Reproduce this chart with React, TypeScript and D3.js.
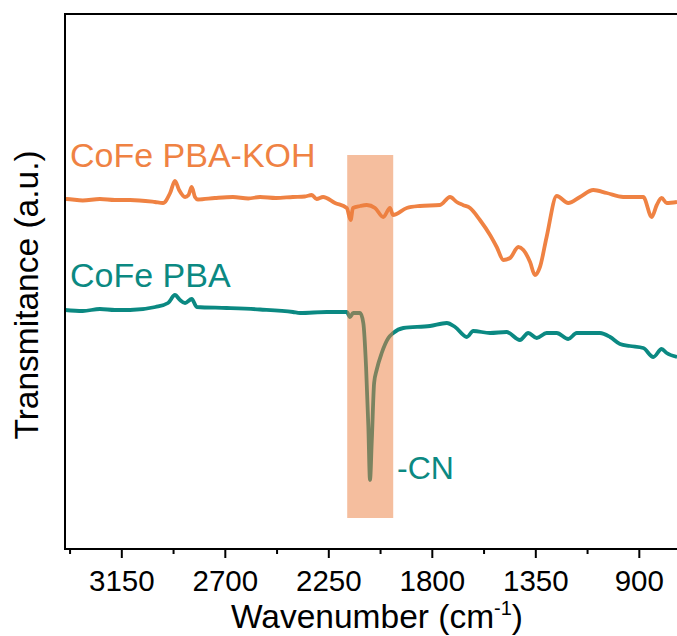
import React from "react";
import * as d3 from "d3";

// Wavenumber (cm^-1) and transmittance (arbitrary units)
const kohWave = [3397, 3390, 3320, 3245, 3180, 3114, 3006, 2971, 2940, 2919, 2901, 2875, 2860, 2846, 2832, 2819, 2745, 2667, 2600, 2549, 2480, 2406, 2354, 2324, 2303, 2275, 2223, 2172, 2155, 2145, 2114, 2085, 2049, 2013, 1984, 1971, 1911, 1854, 1767, 1723, 1694, 1667, 1636, 1593, 1549, 1520, 1491, 1462, 1426, 1404, 1375, 1354, 1332, 1303, 1259, 1209, 1158, 1100, 1042, 970, 883, 846, 824, 803, 781, 736];
const kohT = [349.5, 350, 348.5, 350, 349, 349, 347, 346, 356, 368, 359, 352, 354, 362, 352, 349.5, 351, 352, 350.5, 352, 351, 352, 352.5, 354, 350, 352, 346, 341, 329, 341, 343, 344, 341, 332, 341, 334, 341, 343, 344, 352, 347, 344, 341, 329, 314, 302, 289, 291, 302, 299, 287, 274, 282, 312, 353, 346, 352, 359, 356, 352, 352, 332, 344, 351, 346, 347];

const pbaWave = [3397, 3320, 3245, 3180, 3114, 3004, 2949, 2919, 2897, 2875, 2846, 2824, 2694, 2549, 2406, 2375, 2259, 2172, 2158, 2144, 2114, 2100, 2088, 2078, 2071, 2063, 2053, 2042, 2020, 1991, 1970, 1926, 1810, 1737, 1701, 1650, 1622, 1549, 1477, 1419, 1383, 1346, 1303, 1259, 1209, 1172, 1071, 1027, 984, 941, 883, 839, 803, 781, 736];
const pbaT = [239, 238, 240, 239, 239, 242, 246, 254, 249, 246, 250, 242, 241, 239.5, 237, 236, 237, 237, 232, 236, 236, 226, 182, 122, 69, 109, 166, 179, 196, 211, 216, 221, 223, 226, 222, 212, 218, 216, 217, 209, 216, 211, 216, 216, 210, 216, 216, 212, 205, 203, 201, 192, 200, 196, 192];

const xTicks = [3150, 2700, 2250, 1800, 1350, 900];
const xMinorTicks = [3375, 2925, 2475, 2025, 1575, 1125];
const bandWave = [2170, 1970];
const bandT = [31, 394];

const labels = ["CoFe PBA-KOH", "CoFe PBA"];
const colors = ["#EF8243", "#0B8982"];

export default function App() {
  const W = 677, H = 636;
  const left = 65, top = 14, bottom = 549;
  const x = d3.scaleLinear().domain([3397, 650]).range([left, left + 2747 * 0.23]);
  const y = d3.scaleLinear().domain([0, 535]).range([bottom, top]);
  const line = d3.line<[number, number]>().x(d => x(d[0])).y(d => y(d[1])).curve(d3.curveMonotoneX);
  const koh = kohWave.map((w, i) => [w, kohT[i]] as [number, number]);
  const pba = pbaWave.map((w, i) => [w, pbaT[i]] as [number, number]);
  const font = "'Liberation Sans', Arial, sans-serif";
  return (
    <svg width={W} height={H} style={{ position: "absolute", left: 0, top: 0, background: "#fff" }}>
      <defs>
        <clipPath id="plot">
          <rect x={left} y={top} width={W - left + 20} height={bottom - top} />
        </clipPath>
      </defs>
      <g clipPath="url(#plot)">
        <path d={line(koh) || ""} fill="none" stroke={colors[0]} strokeWidth={3.8} strokeLinejoin="round" />
        <path d={line(pba) || ""} fill="none" stroke={colors[1]} strokeWidth={3.8} strokeLinejoin="round" />
        <rect x={x(bandWave[0])} y={y(bandT[1])} width={x(bandWave[1]) - x(bandWave[0])} height={y(bandT[0]) - y(bandT[1])} fill="#EB7D3D" fillOpacity={0.5} />
      </g>
      {/* frame */}
      <path d={`M${W + 10},${top}H${left}V${bottom}H${W + 10}`} fill="none" stroke="#000" strokeWidth={2} />
      {xTicks.map(t => (
        <g key={t}>
          <line x1={x(t)} x2={x(t)} y1={bottom} y2={bottom + 9} stroke="#000" strokeWidth={2} />
          <text x={x(t)} y={591} textAnchor="middle" fontFamily={font} fontSize={29.5}>{t}</text>
        </g>
      ))}
      {xMinorTicks.map(t => (
        <line key={t} x1={x(t)} x2={x(t)} y1={bottom} y2={bottom + 5} stroke="#000" strokeWidth={2} />
      ))}
      <text x={377} y={628} textAnchor="middle" fontFamily={font} fontSize={33.5}>
        Wavenumber (cm<tspan dy={-13} fontSize={20}>-1</tspan><tspan dy={13}>)</tspan>
      </text>
      <text transform="translate(38,295) rotate(-90)" textAnchor="middle" fontFamily={font} fontSize={33.5}>Transmitance (a.u.)</text>
      <text x={70} y={167} fontFamily={font} fontSize={34} fill={colors[0]}>{labels[0]}</text>
      <text x={70} y={287} fontFamily={font} fontSize={34} fill={colors[1]}>{labels[1]}</text>
      <text x={397} y={479} fontFamily={font} fontSize={32} fill={colors[1]}>-CN</text>
    </svg>
  );
}
